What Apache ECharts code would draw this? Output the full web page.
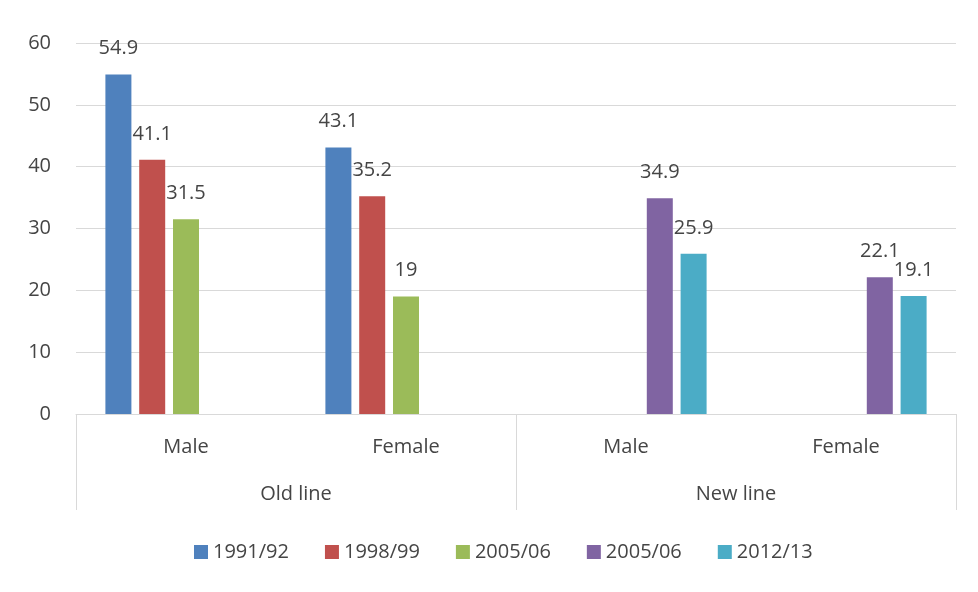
<!DOCTYPE html>
<html>
<head>
<meta charset="utf-8">
<script src="https://cdn.jsdelivr.net/npm/echarts@6/dist/echarts.min.js"></script>
<style>
  html,body{margin:0;padding:0;background:#fff;}
  #chart{width:978px;height:592px;}
</style>
</head>
<body>
<div id="chart"></div>
<script>
var categories = ['Male', 'Female', 'Male', 'Female'];
var groups = ['Old line', 'New line'];
var seriesNames = ['1991/92', '1998/99', '2005/06 old', '2005/06 new', '2012/13'];
var legendLabels = ['1991/92', '1998/99', '2005/06', '2005/06', '2012/13'];
var v1991 = [54.9, 43.1, null, null];
var v1998 = [41.1, 35.2, null, null];
var v2005old = [31.5, 19, null, null];
var v2005new = [null, null, 34.9, 22.1];
var v2012 = [null, null, 25.9, 19.1];
var yTicks = [0, 10, 20, 30, 40, 50, 60];

var colors = ['#4F81BD', '#C0504D', '#9BBB59', '#8064A2', '#4BACC6'];
var txt = '#454545';
var font = 'Open Sans';

var chart = echarts.init(document.getElementById('chart'));
var allValues = [v1991, v1998, v2005old, v2005new, v2012];

var series = seriesNames.map(function(n, i){
  return {
    name: n,
    type: 'bar',
    barWidth: 26,
    barGap: '30%',
    data: allValues[i],
    itemStyle: {color: colors[i]},
    label: {
      show: true,
      position: 'top',
      distance: 16,
      color: txt,
      fontFamily: font,
      fontSize: 20
    }
  };
});

chart.setOption({
  animation: false,
  color: colors,
  grid: {left: 76, right: 22, top: 43, bottom: 178},
  legend: {
    data: seriesNames,
    left: 189,
    top: 537,
    itemWidth: 14,
    itemHeight: 14,
    itemGap: 36,
    icon: 'rect',
    formatter: function(name){ return legendLabels[seriesNames.indexOf(name)]; },
    textStyle: {color: txt, fontFamily: font, fontSize: 20}
  },
  xAxis: [{
    type: 'category',
    data: categories,
    axisLine: {lineStyle: {color: '#D9D9D9'}},
    axisTick: {show: false},
    axisLabel: {color: txt, fontFamily: font, fontSize: 20, margin: 23}
  }, {
    type: 'category',
    data: groups,
    position: 'bottom',
    axisLine: {show: false},
    axisTick: {show: true, length: 96, lineStyle: {color: '#D9D9D9'}},
    axisLabel: {color: txt, fontFamily: font, fontSize: 20, margin: 70}
  }],
  yAxis: {
    type: 'value',
    min: yTicks[0],
    max: yTicks[yTicks.length - 1],
    interval: 10,
    axisLine: {show: false},
    axisTick: {show: false},
    splitLine: {lineStyle: {color: '#D9D9D9'}},
    axisLabel: {color: txt, fontFamily: font, fontSize: 20, margin: 25}
  },
  series: series
});
</script>
</body>
</html>
